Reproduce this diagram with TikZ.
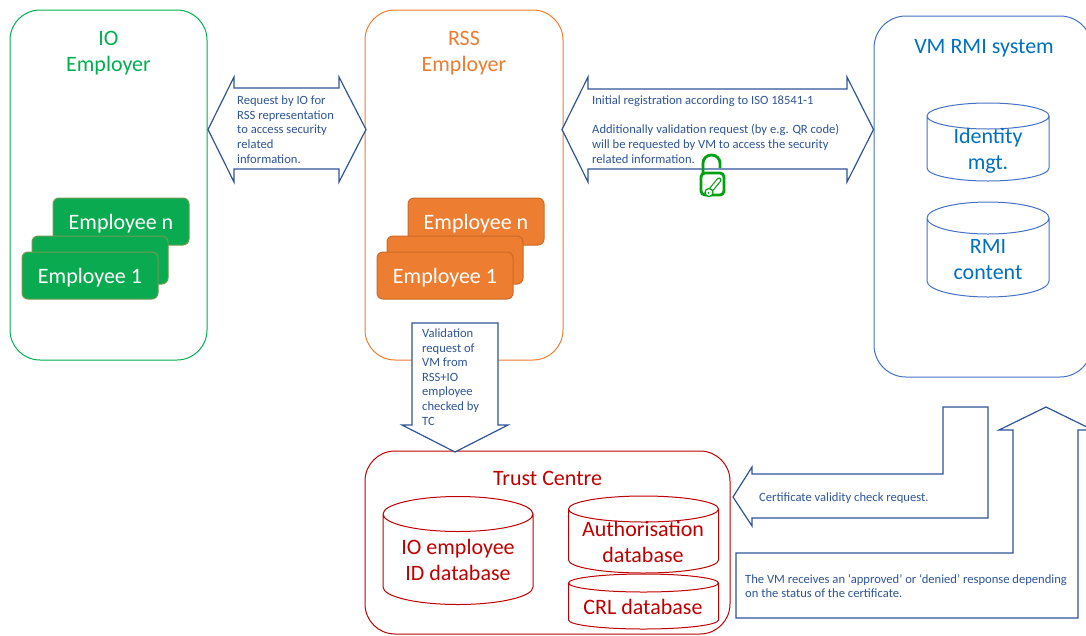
\documentclass[tikz,border=0pt]{standalone}
\usepackage{fontspec}
\setmainfont{Carlito}
\usepackage{tikz}

\definecolor{iogreen}{HTML}{0AAB50}
\definecolor{ioline}{HTML}{00B050}
\definecolor{rssorange}{HTML}{ED7D31}
\definecolor{vmblue}{HTML}{0070C0}
\definecolor{vmline}{HTML}{4472C4}
\definecolor{tcred}{HTML}{C00000}
\definecolor{arrowblue}{HTML}{2F5597}
\definecolor{lockgreen}{HTML}{00A010}
\definecolor{cardolive}{HTML}{6F9A50}
\definecolor{cardrust}{HTML}{CC6A28}

% #1 colour, #2 left, #3 right, #4 top of ellipse centre, #5 bottom of wall, #6 y radius
\newcommand{\dbcyl}[6]{%
  \pgfmathsetmacro{\dbrx}{(#3-#2)/2}
  \draw[#1, line width=1pt] (#2,#4) arc[start angle=180, end angle=540, x radius=\dbrx pt, y radius=#6 pt]
    (#2,#4) -- (#2,#5) arc[start angle=180, end angle=360, x radius=\dbrx pt, y radius=#6 pt] -- (#3,#4);
}

\begin{document}
\begin{tikzpicture}[x=1pt, y=-1pt,
  groupbox/.style={draw=#1, rounded corners=30pt, line width=1pt, fill=white, inner sep=0pt},
  title/.style={font=\fontsize{22}{26}\selectfont, align=center, text=#1, inner sep=0pt},
  card/.style={fill=#1, rounded corners=6pt, line width=1pt, text=white, text height=16pt, text depth=0pt,
    minimum width=136pt, minimum height=47pt, inner sep=0pt, font=\fontsize{22}{24}\selectfont},
  blockarrow/.style={draw=arrowblue, line width=1.2pt, fill=white, line join=miter},
  note/.style={font=\fontsize{12.6}{14.6}\selectfont, align=left, text=arrowblue, inner sep=0pt, anchor=west}
]
\useasboundingbox (0,0) rectangle (1086,635);
\clip (0,0) rectangle (1086,635);

\node[groupbox=ioline, minimum width=197pt, minimum height=350pt] (io) at (108.5,185) {};
\node[title=ioline] (iotitle) at (108.5,53.5) {IO\\Employer};
\node[card=iogreen, draw=cardolive] (ion) at (121,221.5) {Employee n};
\node[card=iogreen, draw=cardolive, minimum height=48pt] (iomid) at (100,260) {};
\node[card=iogreen, draw=cardolive] (io1) at (90,275.5) {Employee 1};

\node[groupbox=rssorange, minimum width=198pt, minimum height=350pt] (rss) at (464,185) {};
\node[title=rssorange] (rsstitle) at (464,53.5) {RSS\\Employer};
\node[card=rssorange, draw=cardrust] (rssn) at (476,221.5) {Employee n};
\node[card=rssorange, draw=cardrust, minimum height=48pt] (rssmid) at (455,260) {};
\node[card=rssorange, draw=cardrust] (rss1) at (445,275.5) {Employee 1};

\node[groupbox=vmline, rounded corners=32pt, minimum width=218pt, minimum height=361pt] (vm) at (983,196.5) {};
\node[title=vmblue] (vmtitle) at (984,48) {VM RMI system};
\dbcyl{vmline}{927}{1049}{116}{168}{13}
\node[title=vmblue] (idmgt) at (988,151) {Identity\\mgt.};
\dbcyl{vmline}{927}{1049}{218}{281}{16}
\node[title=vmblue] (rmi) at (988,260) {RMI\\content};

\node[groupbox=tcred, minimum width=365pt, minimum height=183pt] (tc) at (547.5,542.5) {};
\node[title=tcred] (tctitle) at (547.5,478) {Trust Centre};
\dbcyl{tcred}{383}{533}{514}{587}{17.5}
\node[title=tcred] (iodb) at (458,560) {IO employee\\ID database};
\dbcyl{tcred}{568.5}{718.5}{509}{560}{13}
\node[title=tcred] (authdb) at (643,542) {Authorisation\\database};
\dbcyl{tcred}{568.5}{718.5}{583}{620}{9}
\node[title=tcred] (crldb) at (643,607) {CRL database};

% block arrows
\draw[blockarrow] (208,129.5) -- (234,77) -- (234,88) -- (339,88) -- (339,77) -- (366,129.5)
  -- (339,182) -- (339,169) -- (234,169) -- (234,182) -- cycle;
\node[note] (reqio) at (237,129.5) {Request by IO for\\RSS representation\\to access security\\related\\information.};

\draw[blockarrow] (562,129.5) -- (588,77) -- (588,89) -- (847,89) -- (847,77) -- (873.5,129.5)
  -- (847,182) -- (847,169) -- (588,169) -- (588,182) -- cycle;
\node[note] (reqvm) at (592,129.5) {Initial registration according to ISO 18541-1\\[14.6pt]Additionally validation request (by e.g. QR code)\\will be requested by VM to access the security\\related information.};

\draw[blockarrow] (412,323) -- (498,323) -- (498,425) -- (508,425) -- (455,452) -- (402,425) -- (412,425) -- cycle;
\node[note] (reqtc) at (422,377) {Validation\\request of\\VM from\\RSS+IO\\employee\\checked by\\TC};

\draw[blockarrow] (943,407) -- (988,407) -- (988,518) -- (752,518) -- (752,526) -- (733,497) -- (752,467) -- (752,474) -- (943,474) -- cycle;
\node[note] (certreq) at (759,498) {Certificate validity check request.};

\draw[blockarrow] (736,553) -- (1013,553) -- (1013,430) -- (999,430) -- (1046,407) -- (1093,430) -- (1078,430) -- (1078,618) -- (736,618) -- cycle;
\node[note] (certresp) at (745,586) {The VM receives an ‘approved’ or ‘denied’ response depending\\on the status of the certificate.};

% open padlock
\draw[lockgreen, line width=2.8pt, rounded corners=4pt, fill=white] (701,173) rectangle (724,195);
\draw[lockgreen, line width=2.8pt] (703,173) -- (703,163) arc[start angle=180, end angle=0, x radius=8.5pt, y radius=8pt] -- (720,168);
\draw[lockgreen, line width=5pt, line cap=round] (710,191) -- (719,180);
\draw[white, line width=2.6pt, line cap=round] (710,191) -- (719,180);
\draw[lockgreen, fill=white, line width=1.2pt] (709,192.5) circle[radius=4pt];
\fill[lockgreen] (708.5,193) circle[radius=1pt];
\end{tikzpicture}
\end{document}
